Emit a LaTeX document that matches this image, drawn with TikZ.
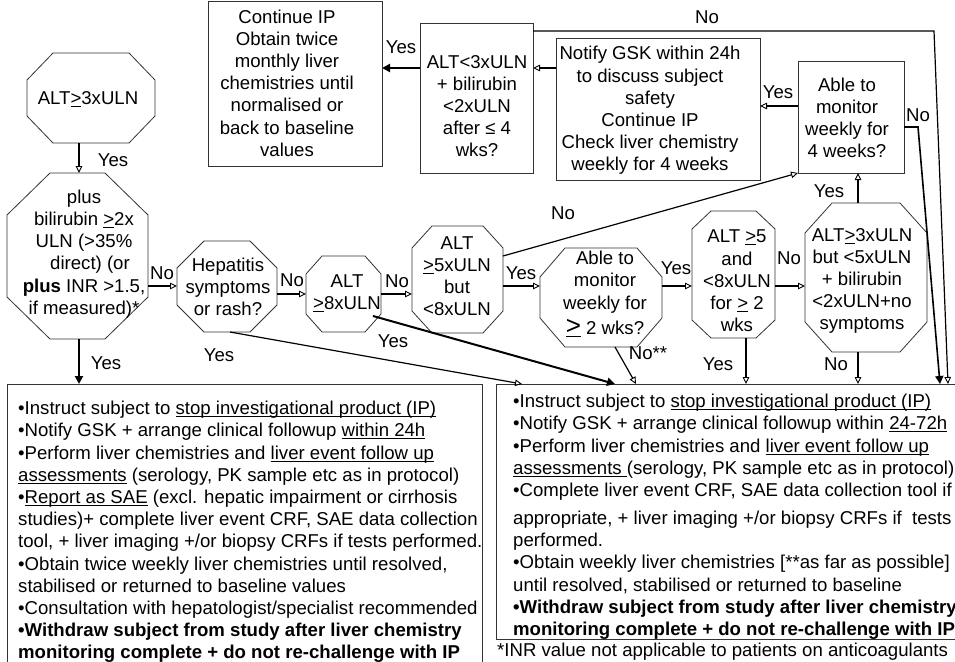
\documentclass[tikz,border=0pt]{standalone}
\usepackage{fontspec}
\setmainfont{Liberation Sans}
\usetikzlibrary{arrows.meta,calc}
\newcommand\fs{\fontsize{18.6}{22.2}\selectfont}
\newsavebox\ulbox
\newcommand\ul[1]{\sbox\ulbox{#1}\rlap{\rule[-2.4pt]{\wd\ulbox}{0.9pt}}\usebox\ulbox}
\newcommand\octo[3]{%
  \draw[shapeline] ($(#1.north west)+(#2,0)$) -- ($(#1.north east)+(-#2,0)$)
    -- ($(#1.north east)+(0,#3)$) -- ($(#1.south east)+(0,-#3)$)
    -- ($(#1.south east)+(-#2,0)$) -- ($(#1.south west)+(#2,0)$)
    -- ($(#1.south west)+(0,-#3)$) -- ($(#1.north west)+(0,#3)$) -- cycle;}
\tikzset{
  every node/.style={font=\fs},
  shapebox/.style={draw=black!80, line width=0.8pt, inner sep=0pt, outer sep=0pt},
  octbox/.style={inner sep=0pt, outer sep=0pt},
  shapeline/.style={draw=black!80, line width=0.8pt},
  txt/.style={align=center, inner sep=0pt},
  lbl/.style={inner sep=0pt},
  thinarrow/.style={line width=1.2pt, -{Triangle[open,length=7pt,width=6.5pt,line width=0.9pt]}},
  thickarrow/.style={line width=2pt, -{Triangle[length=8pt,width=8pt]}},
}
\begin{document}
\begin{tikzpicture}[x=1pt,y=-1pt]
\fill[white] (0,0) rectangle (955,661);
\useasboundingbox (0,0) rectangle (955,661);

% octagon frames
\node[octbox, minimum width=128pt, minimum height=90pt] (A) at (91,98) {};
\node[octbox, minimum width=141pt, minimum height=166pt] (B) at (77.5,256) {};
\node[octbox, minimum width=100pt, minimum height=91pt] (C) at (227,286.5) {};
\node[octbox, minimum width=75pt, minimum height=76pt] (D) at (343.5,294) {};
\node[octbox, minimum width=91pt, minimum height=107pt] (E) at (457.5,279.5) {};
\node[octbox, minimum width=122pt, minimum height=99pt] (F) at (601,297.5) {};
\node[octbox, minimum width=83pt, minimum height=127pt] (G) at (733.5,274.5) {};
\node[octbox, minimum width=122pt, minimum height=149pt] (H) at (866,277.5) {};
\octo{A}{26}{27}
\octo{B}{43}{42}
\octo{C}{27}{27}
\octo{D}{16}{18}
\octo{E}{20}{22}
\octo{F}{25}{29}
\octo{G}{19}{18}
\octo{H}{27}{30}

% rectangular boxes
\node[shapebox, minimum width=106pt, minimum height=112pt] (I) at (851,117) {};
\node[shapebox, minimum width=204pt, minimum height=142pt] (J) at (658,109) {};
\node[shapebox, minimum width=113pt, minimum height=150pt] (K) at (476.5,98) {};
\node[shapebox, minimum width=174pt, minimum height=165pt] (L) at (295,83.5) {};
\node[shapebox, minimum width=475pt, minimum height=286pt] (M) at (244.5,527) {};
\node[shapebox, minimum width=462pt, minimum height=255pt] (N) at (727,511.5) {};

% texts
\node[txt] (At) at (88,99) {ALT\ul{>}3xULN};
\node[txt] (Bt) at (84,254) {plus\\bilirubin \ul{>}2x\\ULN (>35\%\\\hspace*{12pt}direct) (or\\\textbf{plus} INR >1.5,\\if measured)*};
\node[txt] (Ct) at (228,287) {Hepatitis\\symptoms\\or rash?};
\node[txt] (Dt) at (347,293) {ALT\\\ul{>}8xULN};
\node[txt] (Et) at (457,276) {ALT\\\ul{>}5xULN\\but\\<8xULN};
\node[txt] (Ft) at (605,294) {Able to\\monitor\\weekly for\\[3pt]{\fontsize{26}{22}\selectfont\ul{>}} 2 wks?};
\node[txt] (Gt) at (737,281) {ALT \ul{>}5\\and\\<8xULN\\for \ul{>} 2\\wks};
\node[txt] (Ht) at (862,281) {ALT\ul{>}3xULN\\but <5xULN\\+ bilirubin\\<2xULN+no\\symptoms};
\node[txt] (It) at (847,118) {Able to\\monitor\\weekly for\\4 weeks?};
\node[txt] (Jt) at (650,110.5) {Notify GSK within 24h\\to discuss subject\\safety\\Continue IP\\Check liver chemistry\\weekly for 4 weeks};
\node[txt] (Kt) at (477,106) {ALT<3xULN\\+ bilirubin\\<2xULN\\after ≤ 4\\wks?};
\node[txt] (Lt) at (287,83) {Continue IP\\Obtain twice\\monthly liver\\chemistries until\\normalised or\\back to baseline\\values};

\node[anchor=north west, align=left, inner sep=0pt] (Mt) at (18,401) {%
•Instruct subject to \ul{stop investigational product (IP)}\\
•Notify GSK + arrange clinical followup \ul{within 24h}\\
•Perform liver chemistries and \ul{liver event follow up}\\
\ul{assessments} (serology, PK sample etc as in protocol)\\
•\ul{Report as SAE} (excl. hepatic impairment or cirrhosis\\
studies)+ complete liver event CRF, SAE data collection\\
tool, + liver imaging +/or biopsy CRFs if tests performed.\\
•Obtain twice weekly liver chemistries until resolved,\\
stabilised or returned to baseline values\\
•Consultation with hepatologist/specialist recommended\\
\textbf{•Withdraw subject from study after liver chemistry}\\
\textbf{monitoring complete + do not re-challenge with IP}};

\node[anchor=north west, align=left, inner sep=0pt] (Nt) at (513,394) {%
•Instruct subject to \ul{stop investigational product (IP)}\\
•Notify GSK + arrange clinical followup within \ul{24-72h}\\
•Perform liver chemistries and \ul{liver event follow up}\\
\ul{assessments\ }(serology, PK sample etc as in protocol)\\
•Complete liver event CRF, SAE data collection tool if\\[5.8pt]
appropriate, + liver imaging +/or biopsy CRFs if \ tests\\
performed.\\
•Obtain weekly liver chemistries [**as far as possible]\\
until resolved, stabilised or returned to baseline\\
\textbf{•Withdraw subject from study after liver chemistry}\\
\textbf{monitoring complete + do not re-challenge with IP}};

\node[anchor=west, inner sep=0pt] (fn) at (497,652) {*INR value not applicable to patients on anticoagulants};

% helper coordinates
\coordinate (r1) at (0,286);
\coordinate (r2) at (0,294);
\coordinate (cAB) at (79,0);
\coordinate (cG) at (746,0);
\coordinate (cH) at (858,0);
\coordinate (rIJ) at (0,106);
\coordinate (rJK) at (0,68);
\coordinate (rK) at (0,31);
\coordinate (rI) at (0,127);
\coordinate (kc) at (934,31);
\coordinate (ic) at (918,127);

% connectors
\draw[thinarrow] (A.south -| cAB) -- (B.north -| cAB);
\draw[thickarrow] (B.south -| cAB) -- (M.north -| cAB);
\draw[thinarrow] (B.east |- r1) -- (C.west |- r1);
\draw[thinarrow] (C.east |- r2) -- (D.west |- r2);
\draw[thinarrow] (D.east |- r2) -- (E.west |- r2);
\draw[thinarrow] (E.east |- r1) -- (F.west |- r1);
\draw[thinarrow] (F.east |- r1) -- (G.west |- r1);
\draw[thinarrow] (G.east |- r1) -- (H.west |- r1);
\draw[thinarrow] (H.north -| cH) -- (I.south -| cH);
\draw[thinarrow] (H.south -| cH) -- (N.north -| cH);
\draw[thinarrow] (G.south -| cG) -- (N.north -| cG);
\draw[thinarrow] (I.west |- rIJ) -- (J.east |- rIJ);
\draw[thinarrow] (J.west |- rJK) -- (K.east |- rJK);
\draw[thickarrow] (K.west |- rJK) -- (L.east |- rJK);
\draw[thinarrow] (K.east |- rK) -- (kc) -- ($(N.north east)+(-10,0)$);
\draw[thickarrow, line width=1.6pt] (I.east |- rI) -- (ic) -- ($(N.north east)+(-18,0)$);
\draw[thinarrow] ($(E.north east)+(0,30)$) -- (I.south west);
\draw[thinarrow] ($(C.south)+(3,0)$) -- ($(N.north west)+(26,0)$);
\draw[thickarrow] ($(D.south east)+(-8,-16)$) -- ($(N.north west)+(119,0)$);
\draw[thinarrow] ($(F.south)+(14,0)$) -- ($(N.north west)+(140,0)$);

% labels
\node[lbl] (lAB) at (113,160) {Yes};
\node[lbl] (lBM) at (106,363) {Yes};
\node[lbl] (lBC) at (162,273) {No};
\node[lbl] (lCD) at (292,280) {No};
\node[lbl] (lDE) at (397,281) {No};
\node[lbl] (lEF) at (521,273) {Yes};
\node[lbl] (lFG) at (676,268) {Yes};
\node[lbl] (lGH) at (789,258) {No};
\node[lbl] (lHI) at (829,191) {Yes};
\node[lbl] (lEI) at (563,213) {No};
\node[lbl] (lIJ) at (778,92) {Yes};
\node[lbl] (lKL) at (401,47) {Yes};
\node[lbl] (lK) at (707,17) {No};
\node[lbl] (lI) at (918,115) {No};
\node[lbl] (lCN) at (219,355) {Yes};
\node[lbl] (lDN) at (393,341) {Yes};
\node[lbl] (lFN) at (648,353) {No**};
\node[lbl] (lGN) at (718,364) {Yes};
\node[lbl] (lHN) at (836,364) {No};
\end{tikzpicture}
\end{document}
